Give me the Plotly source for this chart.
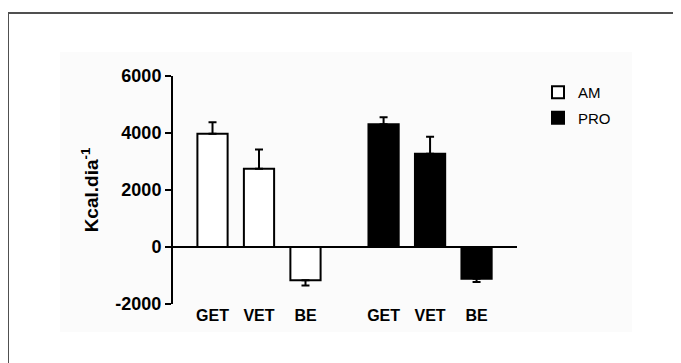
import plotly.graph_objects as go

# ---- data ----
categories = ["GET", "VET", "BE"]
series_names = ["AM", "PRO"]
am_values = [3970, 2750, -1170]
am_errors = [410, 670, 180]
pro_values = [4310, 3270, -1110]
pro_errors = [240, 600, 120]
y_ticks = [-2000, 0, 2000, 4000, 6000]
y_tick_labels = ["-2000", "0", "2000", "4000", "6000"]

# ---- layout helpers (target pixels -> paper); page body has an 8px margin ----
OFF = 8
W, H = 681, 363
L, R, T, B = 173 - OFF, 517 - OFF, 76 - OFF, 304 - OFF
def px(x):
    return (x - OFF - L) / (R - L)
def py(y):
    return (B - (y - OFF)) / (B - T)

FONT = "Liberation Sans, Arial, sans-serif"
group_gap = 0.68

def positions(g):
    return [i + g * (len(categories) + group_gap) for i in range(len(categories))]

def err_arrays(vals, errs):
    up = [e if v >= 0 else 0 for v, e in zip(vals, errs)]
    down = [e if v < 0 else 0 for v, e in zip(vals, errs)]
    return up, down

fig = go.Figure()
fills = ["white", "black"]
for g, (name, vals, errs) in enumerate(zip(series_names, [am_values, pro_values], [am_errors, pro_errors])):
    up, down = err_arrays(vals, errs)
    fig.add_trace(go.Bar(
        x=positions(g), y=vals, name=name, legendgroup=name,
        width=0.65,
        marker=dict(color=fills[g], line=dict(color="black", width=2)),
        error_y=dict(type="data", symmetric=False, array=up, arrayminus=down,
                     color="black", thickness=2, width=4),
    ))

tickvals = positions(0) + positions(1)
ticktext = categories + categories

fig.update_layout(
    width=W, height=H,
    margin=dict(l=L, r=W - R, t=T, b=H - B),
    paper_bgcolor="white", plot_bgcolor="#fbfbfb",
    barmode="overlay",
    font=dict(family=FONT, color="black"),
    showlegend=True,
    legend=dict(x=px(538), xanchor="left", y=py(76), yanchor="top",
                font=dict(size=15, family=FONT), tracegroupgap=3,
                bgcolor="rgba(0,0,0,0)"),
    xaxis=dict(range=[-0.85, 6.55], showgrid=False, zeroline=False, showline=False,
               ticks="", tickvals=tickvals, ticktext=ticktext,
               tickfont=dict(size=16, family=FONT, weight="bold")),
    yaxis=dict(range=[-2000, 6000], tickvals=y_ticks, ticktext=y_tick_labels,
               showgrid=False,
               zeroline=True, zerolinecolor="black", zerolinewidth=2,
               showline=True, linecolor="black", linewidth=2,
               ticks="outside", ticklen=6, tickwidth=2, tickcolor="black",
               tickfont=dict(size=18, family=FONT, weight="bold"),
               title=dict(text="Kcal.dia<sup>-1</sup>", standoff=12,
                          font=dict(size=19, family=FONT, weight="bold"))),
    shapes=[
        dict(type="rect", xref="paper", yref="paper", layer="below",
             x0=px(60), x1=px(632), y0=py(332), y1=py(52),
             fillcolor="#fbfbfb", line=dict(width=0)),
        dict(type="line", xref="paper", yref="paper",
             x0=px(8), x1=px(W + 20), y0=py(13), y1=py(13),
             line=dict(color="#505050", width=2)),
        dict(type="line", xref="paper", yref="paper",
             x0=px(8), x1=px(8), y0=py(13), y1=py(H + 20),
             line=dict(color="#505050", width=2)),
    ],
)

fig.write_html("out.html")
